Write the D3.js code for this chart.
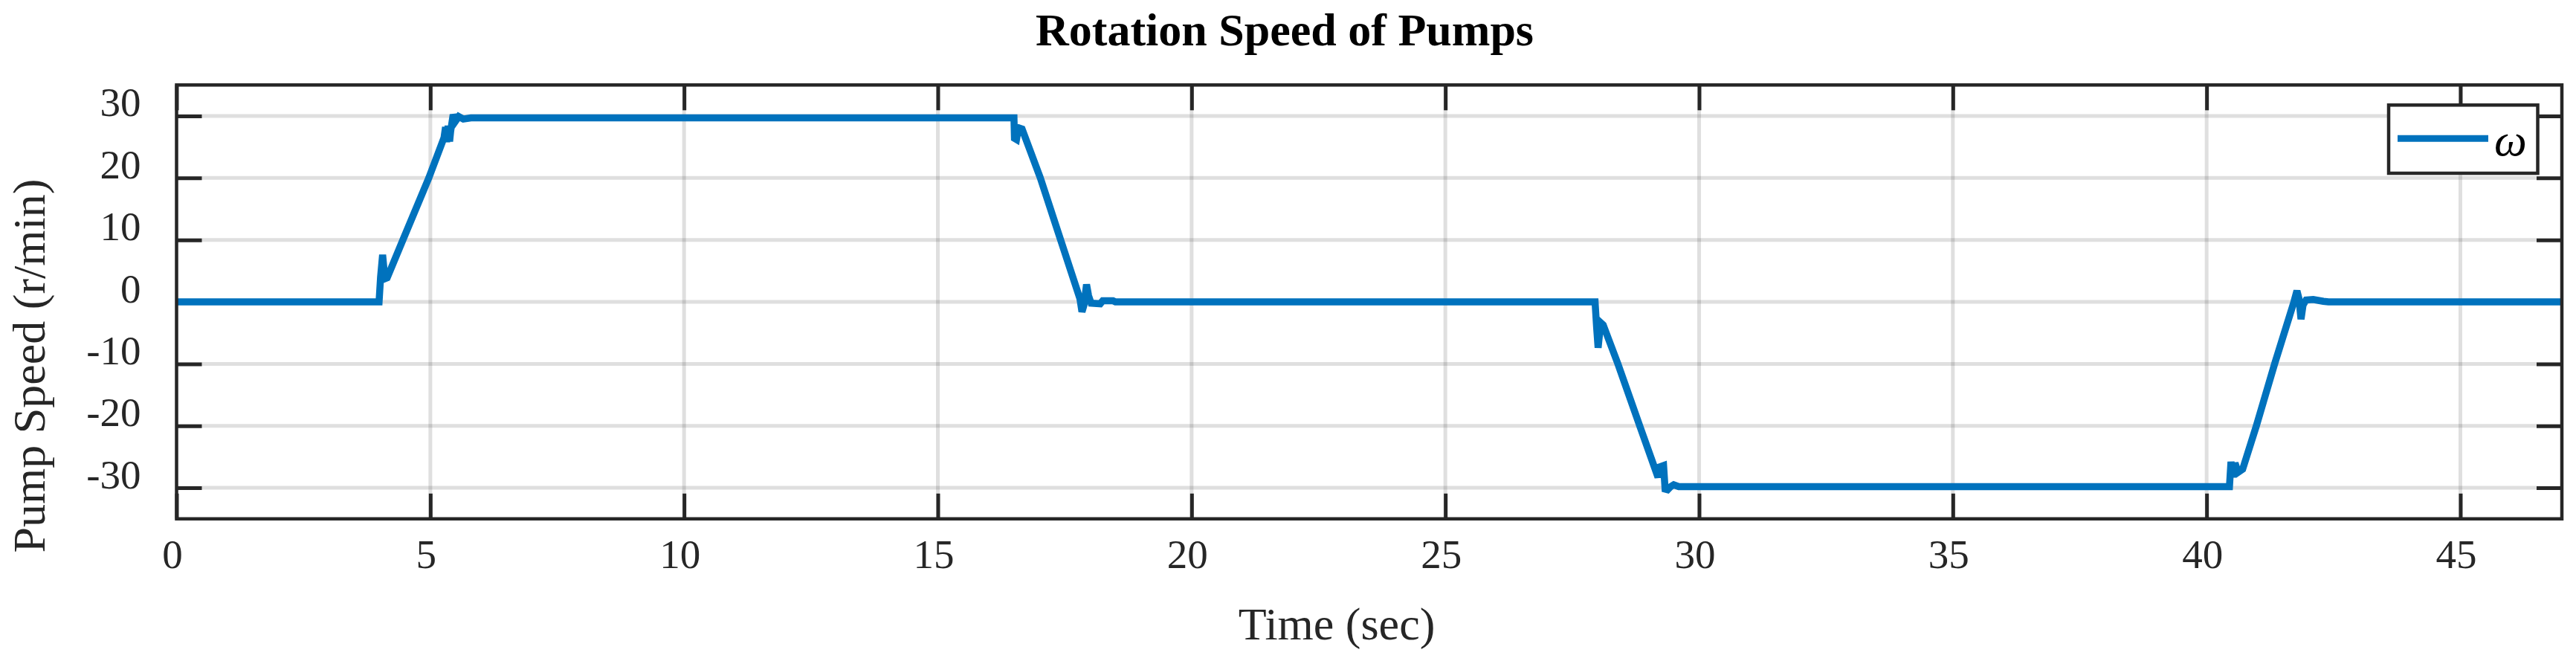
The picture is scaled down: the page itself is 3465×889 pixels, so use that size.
<!DOCTYPE html>
<html>
<head>
<meta charset="utf-8">
<script src="https://cdn.jsdelivr.net/npm/d3@7"></script>
<style>
  html, body { margin: 0; padding: 0; background: #fff; }
  svg { display: block; }
</style>
</head>
<body>
<svg id="chart" width="3465" height="889"></svg>
<script>
// ---- data ----
const time  = [0, 3.99, 4.02, 4.06, 4.09, 4.12, 4.15, 4.46, 4.97, 5.27, 5.30, 5.32, 5.35, 5.38, 5.40, 5.45, 5.50, 5.56, 5.65, 5.80,
               16.50, 16.51, 16.55, 16.59, 16.66, 17.02, 17.42, 17.80, 17.84, 17.88, 17.93, 17.97, 18.02, 18.20, 18.25, 18.45, 18.50,
               27.95, 27.98, 28.01, 28.04, 28.07, 28.11, 28.40, 28.83, 29.19, 29.23, 29.30, 29.33, 29.38, 29.44, 29.50, 29.60,
               40.45, 40.48, 40.52, 40.56, 40.62, 40.71, 40.98, 41.34, 41.72, 41.78, 41.82, 41.86, 41.90, 41.96, 42.10, 42.30, 42.40, 47];
const speed = [0, 0, 4, 7.6, 5, 3.8, 3.9, 10, 20, 26.5, 28.2, 25.8, 28.4, 25.9, 27.5, 30.2, 29.2, 29.9, 29.5, 29.7,
               29.7, 26.4, 26.2, 28.1, 27.9, 20, 10, 0.5, -1.6, -0.5, 2.8, 1.0, -0.2, -0.3, 0.2, 0.2, 0,
               0, -4, -7.4, -5, -3.4, -3.7, -10, -20, -28.3, -26.6, -26.4, -30.2, -30.3, -29.8, -29.5, -29.8,
               -29.8, -25.8, -28.3, -26.0, -27.5, -27, -20, -10, 0, 1.8, 0.5, -2.8, -0.5, 0.3, 0.4, 0.1, 0, 0];
const xTicks = [0, 5, 10, 15, 20, 25, 30, 35, 40, 45];
const xTickLabels = ["0", "5", "10", "15", "20", "25", "30", "35", "40", "45"];
const yTicks = [-30, -20, -10, 0, 10, 20, 30];
const yTickLabels = ["-30", "-20", "-10", "0", "10", "20", "30"];
const xDomain = [0, 47];
const yDomain = [-35, 35];
const seriesName = "\u03C9";
const titleText = "Rotation Speed of Pumps";
const xLabelText = "Time (sec)";
const yLabelText = "Pump Speed (r/min)";

// ---- layout ----
const L = 237.5, R = 3446, T = 114.3, B = 697.8;
const axisColor = "#262626";
const lineColor = "#0072BD";
const serif = "'Liberation Serif', 'Times New Roman', Times, serif";

const svg = d3.select("#chart");
const x = d3.scaleLinear().domain(xDomain).range([L, R]);
const y = d3.scaleLinear().domain(yDomain).range([B, T]);

// grid
const grid = svg.append("g");
grid.selectAll("line.gx").data(xTicks.filter(d => d > xDomain[0])).enter().append("line")
  .attr("x1", d => x(d)).attr("x2", d => x(d)).attr("y1", T).attr("y2", B)
  .attr("stroke", axisColor).attr("stroke-opacity", 0.15).attr("stroke-width", 5);
grid.selectAll("line.gy").data(yTicks).enter().append("line")
  .attr("x1", L).attr("x2", R).attr("y1", d => y(d)).attr("y2", d => y(d))
  .attr("stroke", axisColor).attr("stroke-opacity", 0.15).attr("stroke-width", 5);

// axes
const tickLen = 34;
function styleAxis(g) {
  g.select(".domain").remove();
  g.selectAll(".tick line").attr("stroke", axisColor).attr("stroke-width", 5);
  g.selectAll(".tick text").attr("fill", axisColor)
    .style("font-family", serif).style("font-size", "55px");
}
const gxB = svg.append("g").attr("transform", `translate(0,${B})`)
  .call(d3.axisBottom(x).tickValues(xTicks).tickSize(-tickLen).tickPadding(27)
    .tickFormat((d, i) => xTickLabels[i]));
styleAxis(gxB);
gxB.selectAll(".tick text").attr("dx", -6);

const gxT = svg.append("g").attr("transform", `translate(0,${T})`)
  .call(d3.axisTop(x).tickValues(xTicks).tickSize(-tickLen).tickFormat(""));
styleAxis(gxT);

const gyL = svg.append("g").attr("transform", `translate(${L},0)`)
  .call(d3.axisLeft(y).tickValues(yTicks).tickSize(-tickLen).tickPadding(48)
    .tickFormat((d, i) => yTickLabels[i]));
styleAxis(gyL);
gyL.selectAll(".tick text").attr("dy", "0");

const gyR = svg.append("g").attr("transform", `translate(${R},0)`)
  .call(d3.axisRight(y).tickValues(yTicks).tickSize(-tickLen).tickFormat(""));
styleAxis(gyR);

// data line
const pts = time.map((t, i) => [t, speed[i]]);
svg.append("path")
  .datum(pts)
  .attr("fill", "none")
  .attr("stroke", lineColor)
  .attr("stroke-width", 9.5)
  .attr("stroke-linejoin", "miter")
  .attr("stroke-miterlimit", 3)
  .attr("d", d3.line().x(d => x(d[0])).y(d => y(d[1])));

// axes box
svg.append("rect")
  .attr("x", L).attr("y", T).attr("width", R - L).attr("height", B - T)
  .attr("fill", "none").attr("stroke", axisColor).attr("stroke-width", 4.5);

// legend
const lg = svg.append("g");
lg.append("rect").attr("x", 3213).attr("y", 141.3).attr("width", 200.5).attr("height", 91.7)
  .attr("fill", "#fff").attr("stroke", axisColor).attr("stroke-width", 4.5);
lg.append("line").attr("x1", 3225).attr("x2", 3347).attr("y1", 186.3).attr("y2", 186.3)
  .attr("stroke", lineColor).attr("stroke-width", 9);
lg.append("text").attr("x", 3355).attr("y", 209)
  .style("font-family", serif).style("font-size", "62px").style("font-style", "italic")
  .attr("fill", "#000").text(seriesName);

// title and labels
svg.append("text").attr("x", 1728).attr("y", 61).attr("text-anchor", "middle")
  .style("font-family", serif).style("font-size", "62px").style("font-weight", "bold")
  .attr("fill", "#000").text(titleText);
svg.append("text").attr("x", 1798).attr("y", 860).attr("text-anchor", "middle")
  .style("font-family", serif).style("font-size", "62px")
  .attr("fill", "#262626").text(xLabelText);
svg.append("text").attr("transform", "translate(60,492) rotate(-90)").attr("text-anchor", "middle")
  .style("font-family", serif).style("font-size", "62px")
  .attr("fill", "#262626").text(yLabelText);
</script>
</body>
</html>
